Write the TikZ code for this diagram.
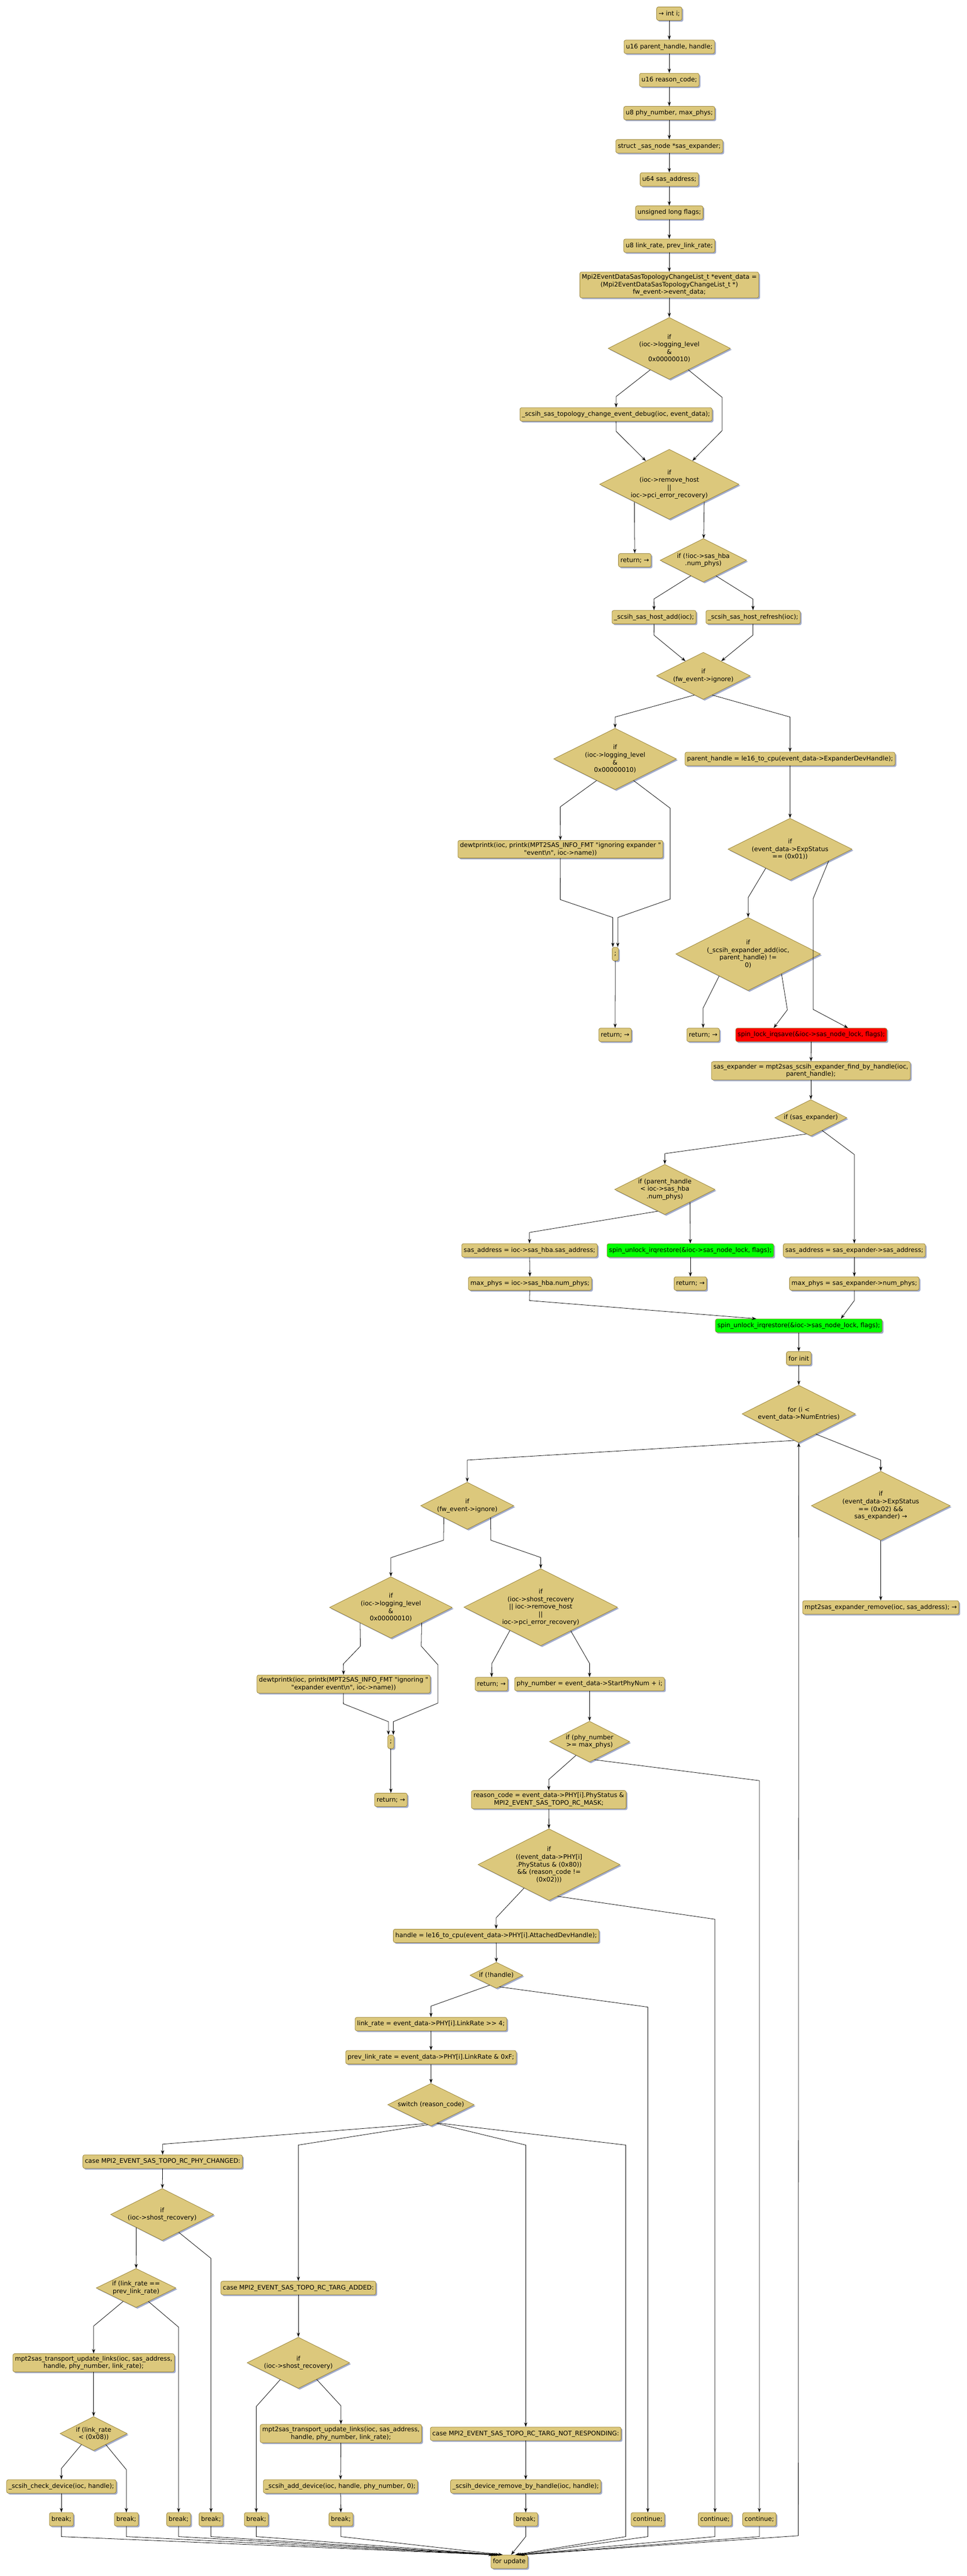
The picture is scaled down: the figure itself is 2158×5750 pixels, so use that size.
\documentclass[tikz,border=0pt]{standalone}
\usepackage{fontspec}
\setmainfont{DejaVu Sans}[Ligatures=TeXOff]
\usetikzlibrary{shapes.geometric,arrows.meta,shadows,calc}
\definecolor{nodefill}{RGB}{220,200,124}
\definecolor{nodeedge}{RGB}{150,128,52}
\definecolor{nodeshade}{RGB}{162,172,204}
\definecolor{lockred}{RGB}{255,0,0}
\definecolor{unlockgreen}{RGB}{0,255,0}
\newcommand\codefont{\fontsize{14}{16.8}\selectfont}
\begin{document}
\begin{tikzpicture}[x=1pt,y=-1pt,
    box/.style={rectangle, rounded corners=4pt, draw=nodeedge, line width=0.9pt, fill=nodefill,
      font=\codefont, align=center, inner xsep=4.5pt, inner ysep=5pt, minimum height=30pt,
      drop shadow={shadow xshift=3pt, shadow yshift=-3pt, fill=nodeshade, opacity=1}},
    cond/.style={diamond, draw=nodeedge, line width=0.9pt, fill=nodefill, inner sep=0pt,
      drop shadow={shadow xshift=3pt, shadow yshift=-3pt, fill=nodeshade, opacity=1}},
    condtext/.style={font=\codefont, align=center, inner sep=0pt},
    flow/.style={line width=0.9pt, -{Stealth[length=10pt,width=7pt]}}]
    \useasboundingbox[fill=white] (0,0) rectangle (2158,5750);
    % declarations
    \node[box] (DeclI)        at (1494,30.5)  {→ int i;};
    \node[box] (DeclHandle)   at (1494,104.5) {u16 parent\_handle, handle;};
    \node[box] (DeclReason)   at (1494,178.5) {u16 reason\_code;};
    \node[box] (DeclPhys)     at (1494,252.5) {u8 phy\_number, max\_phys;};
    \node[box] (DeclExpander) at (1494,326.5) {struct \_sas\_node *sas\_expander;};
    \node[box] (DeclAddress)  at (1494,400.5) {u64 sas\_address;};
    \node[box] (DeclFlags)    at (1494,474.5) {unsigned long flags;};
    \node[box] (DeclRates)    at (1494,548.5) {u8 link\_rate, prev\_link\_rate;};
    \node[box] (DeclEvent)    at (1494,636)   {Mpi2EventDataSasTopologyChangeList\_t *event\_data =\\(Mpi2EventDataSasTopologyChangeList\_t *)\\fw\_event->event\_data;};
    % host checks
    \node[cond, minimum width=273pt, minimum height=138pt, label={[condtext]center:{if\\(ioc->logging\_level\\\&\\0x00000010)}}] (IfLogA) at (1494,777.6) {};
    \node[box] (DebugTopo) at (1375,925) {\_scsih\_sas\_topology\_change\_event\_debug(ioc, event\_data);};
    \node[cond, minimum width=311pt, minimum height=156pt, label={[condtext]center:{if\\(ioc->remove\_host\\||\\ioc->pci\_error\_recovery)}}] (IfRemoveHost) at (1494,1081) {};
    \node[box] (ReturnA) at (1417,1250.6) {return; →};
    \node[cond, minimum width=193pt, minimum height=97pt, label={[condtext]center:{if (!ioc->sas\_hba\\.num\_phys)}}] (IfNumPhys) at (1570,1250.6) {};
    \node[box] (HostAdd)     at (1460,1377.5) {\_scsih\_sas\_host\_add(ioc);};
    \node[box] (HostRefresh) at (1681,1377.5) {\_scsih\_sas\_host\_refresh(ioc);};
    \node[cond, minimum width=209pt, minimum height=105pt, label={[condtext]center:{if\\(fw\_event->ignore)}}] (IfIgnoreA) at (1570,1508.5) {};
    % expander lookup
    \node[cond, minimum width=274pt, minimum height=137pt, label={[condtext]center:{if\\(ioc->logging\_level\\\&\\0x00000010)}}] (IfLogB) at (1373,1694) {};
    \node[box] (ParentHandle) at (1763.5,1694) {parent\_handle = le16\_to\_cpu(event\_data->ExpanderDevHandle);};
    \node[box] (PrintIgnoreA) at (1251,1895.5) {dewtprintk(ioc, printk(MPT2SAS\_INFO\_FMT "ignoring expander "\\"event\textbackslash n", ioc->name))};
    \node[cond, minimum width=277pt, minimum height=138pt, label={[condtext]center:{if\\(event\_data->ExpStatus\\== (0x01))}}] (IfExpStatusA) at (1763.5,1895.5) {};
    \node[box] (SemiA) at (1373.5,2129.5) {;};
    \node[cond, minimum width=323pt, minimum height=163pt, label={[condtext]center:{if\\(\_scsih\_expander\_add(ioc,\\parent\_handle) !=\\0)}}] (IfExpAdd) at (1670,2129.5) {};
    \node[box] (ReturnB) at (1373,2310)   {return; →};
    \node[box] (ReturnC) at (1569.5,2310) {return; →};
    \node[box, fill=lockred] (LockSave) at (1811,2310) {spin\_lock\_irqsave(\&ioc->sas\_node\_lock, flags);};
    \node[box] (FindExpander) at (1810,2390) {sas\_expander = mpt2sas\_scsih\_expander\_find\_by\_handle(ioc,\\parent\_handle);};
    \node[cond, minimum width=161pt, minimum height=81pt, label={[condtext]center:{if (sas\_expander)}}] (IfExpander) at (1810,2495) {};
    \node[cond, minimum width=224pt, minimum height=112pt, label={[condtext]center:{if (parent\_handle\\< ioc->sas\_hba\\.num\_phys)}}] (IfParentHandle) at (1484,2655) {};
    \node[box] (AddrHba) at (1182,2791) {sas\_address = ioc->sas\_hba.sas\_address;};
    \node[box, fill=unlockgreen] (UnlockA) at (1541,2791) {spin\_unlock\_irqrestore(\&ioc->sas\_node\_lock, flags);};
    \node[box] (AddrExp) at (1907,2791) {sas\_address = sas\_expander->sas\_address;};
    \node[box] (MaxHba)  at (1183,2865) {max\_phys = ioc->sas\_hba.num\_phys;};
    \node[box] (ReturnD) at (1541,2865) {return; →};
    \node[box] (MaxExp)  at (1907,2865) {max\_phys = sas\_expander->num\_phys;};
    \node[box, fill=unlockgreen] (UnlockB) at (1783,2959) {spin\_unlock\_irqrestore(\&ioc->sas\_node\_lock, flags);};
    \node[box] (ForInit) at (1783,3032) {for init};
    % phy loop
    \node[cond, minimum width=253pt, minimum height=128pt, label={[condtext]center:{for (i <\\event\_data->NumEntries)}}] (ForCond) at (1783,3156) {};
    \node[cond, minimum width=208pt, minimum height=105pt, label={[condtext]center:{if\\(fw\_event->ignore)}}] (IfIgnoreB) at (1043,3361) {};
    \node[cond, minimum width=310pt, minimum height=154pt, label={[condtext]center:{if\\(event\_data->ExpStatus\\== (0x02) \&\&\\sas\_expander) →}}] (IfExpStatusB) at (1966,3361) {};
    \node[box] (ExpRemove) at (1966,3588) {mpt2sas\_expander\_remove(ioc, sas\_address); →};
    \node[cond, minimum width=274pt, minimum height=137pt, label={[condtext]center:{if\\(ioc->logging\_level\\\&\\0x00000010)}}] (IfLogC) at (872.5,3588) {};
    \node[cond, minimum width=343pt, minimum height=172pt, label={[condtext]center:{if\\(ioc->shost\_recovery\\|| ioc->remove\_host\\||\\ioc->pci\_error\_recovery)}}] (IfRecovery) at (1207,3587.5) {};
    \node[box] (PrintIgnoreB) at (767,3759) {dewtprintk(ioc, printk(MPT2SAS\_INFO\_FMT "ignoring "\\"expander event\textbackslash n", ioc->name))};
    \node[box] (ReturnE)   at (1097,3759) {return; →};
    \node[box] (PhyNumber) at (1316,3759) {phy\_number = event\_data->StartPhyNum + i;};
    \node[box] (SemiB) at (872.5,3888) {;};
    \node[cond, minimum width=179pt, minimum height=91pt, label={[condtext]center:{if (phy\_number\\>= max\_phys)}}] (IfPhyMax) at (1316,3887.5) {};
    \node[box] (ReturnF)    at (872.5,4017.5) {return; →};
    \node[box] (ReasonCode) at (1225,4017) {reason\_code = event\_data->PHY[i].PhyStatus \&\\MPI2\_EVENT\_SAS\_TOPO\_RC\_MASK;};
    \node[cond, minimum width=317pt, minimum height=160pt, label={[condtext]center:{if\\((event\_data->PHY[i]\\.PhyStatus \& (0x80))\\\&\& (reason\_code !=\\(0x02)))}}] (IfPhyStatus) at (1225.5,4162) {};
    \node[box] (Handle) at (1107.5,4321) {handle = le16\_to\_cpu(event\_data->PHY[i].AttachedDevHandle);};
    \node[cond, minimum width=118pt, minimum height=58pt, label={[condtext]center:{if (!handle)}}] (IfHandle) at (1108,4409) {};
    \node[box] (LinkRate)     at (962,4518) {link\_rate = event\_data->PHY[i].LinkRate >> 4;};
    \node[box] (PrevLinkRate) at (962,4592) {prev\_link\_rate = event\_data->PHY[i].LinkRate \& 0xF;};
    \node[cond, minimum width=193pt, minimum height=95pt, label={[condtext]center:{switch (reason\_code)}}] (Switch) at (962,4698) {};
    % switch cases
    \node[box] (CasePhy) at (363,4825) {case MPI2\_EVENT\_SAS\_TOPO\_RC\_PHY\_CHANGED:};
    \node[cond, minimum width=230pt, minimum height=116pt, label={[condtext]center:{if\\(ioc->shost\_recovery)}}] (IfShostA) at (362,4943) {};
    \node[cond, minimum width=178pt, minimum height=87pt, label={[condtext]center:{if (link\_rate ==\\prev\_link\_rate)}}] (IfLinkSame) at (303.7,5107) {};
    \node[box] (CaseAdded) at (666,5107) {case MPI2\_EVENT\_SAS\_TOPO\_RC\_TARG\_ADDED:};
    \node[box] (UpdateA) at (209,5274) {mpt2sas\_transport\_update\_links(ioc, sas\_address,\\handle, phy\_number, link\_rate);};
    \node[cond, minimum width=229pt, minimum height=114pt, label={[condtext]center:{if\\(ioc->shost\_recovery)}}] (IfShostB) at (666,5274) {};
    \node[cond, minimum width=150pt, minimum height=76pt, label={[condtext]center:{if (link\_rate\\< (0x08))}}] (IfLinkLow) at (209,5432) {};
    \node[box] (UpdateB) at (761,5432) {mpt2sas\_transport\_update\_links(ioc, sas\_address,\\handle, phy\_number, link\_rate);};
    \node[box] (CaseNotResp) at (1173.5,5432.5) {case MPI2\_EVENT\_SAS\_TOPO\_RC\_TARG\_NOT\_RESPONDING:};
    \node[box] (CheckDev)  at (137,5550)    {\_scsih\_check\_device(ioc, handle);};
    \node[box] (AddDev)    at (760,5550)    {\_scsih\_add\_device(ioc, handle, phy\_number, 0);};
    \node[box] (RemoveDev) at (1173.5,5550) {\_scsih\_device\_remove\_by\_handle(ioc, handle);};
    \node[box] (BreakA) at (137,5623.5)    {break;};
    \node[box] (BreakB) at (282,5623.5)    {break;};
    \node[box] (BreakC) at (398.7,5623.5)  {break;};
    \node[box] (BreakD) at (471,5623.5)    {break;};
    \node[box] (BreakE) at (572,5623.5)    {break;};
    \node[box] (BreakF) at (761,5623.5)    {break;};
    \node[box] (BreakG) at (1173.5,5623.5) {break;};
    \node[box] (ContA)  at (1446,5623.5)   {continue;};
    \node[box] (ContB)  at (1596,5623.5)   {continue;};
    \node[box] (ContC)  at (1695,5623.5)   {continue;};
    \node[box] (ForUpdate) at (1137,5718) {for update};
    \coordinate (MergeRow) at (0,5662);
    % declaration chain
    \draw[flow] (DeclI) -- (DeclHandle);
    \draw[flow] (DeclHandle) -- (DeclReason);
    \draw[flow] (DeclReason) -- (DeclPhys);
    \draw[flow] (DeclPhys) -- (DeclExpander);
    \draw[flow] (DeclExpander) -- (DeclAddress);
    \draw[flow] (DeclAddress) -- (DeclFlags);
    \draw[flow] (DeclFlags) -- (DeclRates);
    \draw[flow] (DeclRates) -- (DeclEvent);
    \draw[flow] (DeclEvent) -- (IfLogA);
    % host checks
    \draw[flow] ($(IfLogA.south)!0.31!(IfLogA.west)$) -- (1375.5,885) -- (DebugTopo);
    \draw[flow] ($(IfLogA.south)!0.31!(IfLogA.east)$) -- (1612,887) -- (1612,961) -- (IfRemoveHost);
    \draw[flow] (DebugTopo) -- (1375.5,963) -- (IfRemoveHost);
    \draw[flow] (IfRemoveHost.south west) -- (ReturnA);
    \draw[flow] (IfRemoveHost.south east) -- (IfNumPhys);
    \draw[flow] ($(IfNumPhys.south)!0.29!(IfNumPhys.west)$) -- (1459.7,1337) -- (HostAdd);
    \draw[flow] ($(IfNumPhys.south)!0.29!(IfNumPhys.east)$) -- (1680.6,1337) -- (HostRefresh);
    \draw[flow] (HostAdd) -- (1459.7,1417.7) -- (IfIgnoreA);
    \draw[flow] (HostRefresh) -- (1680.6,1417.7) -- (IfIgnoreA);
    % expander lookup
    \draw[flow] ($(IfIgnoreA.south)!0.19!(IfIgnoreA.west)$) -- (1373,1600.5) -- (IfLogB);
    \draw[flow] ($(IfIgnoreA.south)!0.19!(IfIgnoreA.east)$) -- (1763.5,1600.5) -- (ParentHandle);
    \draw[flow] ($(IfLogB.south)!0.3!(IfLogB.west)$) -- (1250.6,1801) -- (PrintIgnoreA);
    \draw[flow] ($(IfLogB.south)!0.3!(IfLogB.east)$) -- (1496,1804) -- (1496,2007) -- (1379,2048) -- ([xshift=5.5pt]SemiA.north);
    \draw[flow] (PrintIgnoreA) -- (1250.6,2008) -- (1368,2048) -- ([xshift=-5.5pt]SemiA.north);
    \draw[flow] (SemiA) -- (ReturnB);
    \draw[flow] (ParentHandle) -- (IfExpStatusA);
    \draw[flow] ($(IfExpStatusA.south)!0.39!(IfExpStatusA.west)$) -- (1670,2003.5) -- (IfExpAdd);
    \draw[flow] ($(IfExpStatusA.south)!0.62!(IfExpStatusA.east)$) -- (1815,2006) -- (1815,2253) -- ([xshift=82pt]LockSave.north);
    \draw[flow] ($(IfExpAdd.south)!0.4!(IfExpAdd.west)$) -- (1569.5,2250) -- (ReturnC);
    \draw[flow] ($(IfExpAdd.south)!0.46!(IfExpAdd.east)$) -- (1757.6,2254) -- ([xshift=-84pt]LockSave.north);
    \draw[flow] (LockSave) -- (FindExpander);
    \draw[flow] (FindExpander) -- (IfExpander);
    \draw[flow] ($(IfExpander.south)!0.12!(IfExpander.west)$) -- (1484,2575) -- (IfParentHandle);
    \draw[flow] ($(IfExpander.south)!0.31!(IfExpander.east)$) -- (1907,2577) -- (AddrExp);
    \draw[flow] ($(IfParentHandle.south)!0.14!(IfParentHandle.west)$) -- (1182,2751) -- (AddrHba);
    \draw[flow] (IfParentHandle.south east) -- (UnlockA);
    \draw[flow] (UnlockA) -- (ReturnD);
    \draw[flow] (AddrHba) -- (MaxHba);
    \draw[flow] (AddrExp) -- (MaxExp);
    \draw[flow] (MaxHba) -- (1182,2903) -- ([xshift=-95pt]UnlockB.north);
    \draw[flow] (MaxExp) -- (1907,2903) -- ([xshift=94pt]UnlockB.north);
    \draw[flow] (UnlockB) -- (ForInit);
    \draw[flow] (ForInit) -- (ForCond);
    % phy loop
    \draw[flow] ($(ForCond.south)!0.08!(ForCond.west)$) -- (1043,3259) -- (IfIgnoreB);
    \draw[flow] ($(ForCond.south)!0.3!(ForCond.east)$) -- (1966,3259) -- (IfExpStatusB);
    \draw[flow] (IfExpStatusB) -- (ExpRemove);
    \draw[flow] (IfIgnoreB.south west) -- (990,3438) -- (872.5,3477) -- (IfLogC);
    \draw[flow] (IfIgnoreB.south east) -- (1095.8,3438) -- (1207,3476.5) -- (IfRecovery);
    \draw[flow] (IfLogC.south west) -- (804.5,3674.5) -- (766.6,3714) -- (PrintIgnoreB);
    \draw[flow] (IfLogC.south east) -- (940.4,3674.5) -- (977.5,3716) -- (977.5,3801.5) -- (878,3843) -- ([xshift=5.5pt]SemiB.north);
    \draw[flow] (PrintIgnoreB) -- (766.6,3803) -- (867,3843) -- ([xshift=-5.5pt]SemiB.north);
    \draw[flow] (SemiB) -- (ReturnF);
    \draw[flow] ($(IfRecovery.south)!0.4!(IfRecovery.west)$) -- (1098,3713) -- (ReturnE);
    \draw[flow] ($(IfRecovery.south)!0.39!(IfRecovery.east)$) -- (1316,3713) -- (PhyNumber);
    \draw[flow] (PhyNumber) -- (IfPhyMax);
    \draw[flow] ($(IfPhyMax.south)!0.335!(IfPhyMax.west)$) -- (1225,3972) -- (ReasonCode);
    \draw[flow] ($(IfPhyMax.south)!0.12!(IfPhyMax.east)$) -- (1695,3974.6) -- (ContC);
    \draw[flow] (ReasonCode) -- (IfPhyStatus);
    \draw[flow] ($(IfPhyStatus.south)!0.35!(IfPhyStatus.west)$) -- (1107.5,4280.7) -- (Handle);
    \draw[flow] ($(IfPhyStatus.south)!0.12!(IfPhyStatus.east)$) -- (1596,4284) -- (ContB);
    \draw[flow] (Handle) -- (IfHandle);
    \draw[flow] ($(IfHandle.south)!0.25!(IfHandle.west)$) -- (962,4478) -- (LinkRate);
    \draw[flow] ($(IfHandle.south)!0.12!(IfHandle.east)$) -- (1446,4480) -- (ContA);
    \draw[flow] (LinkRate) -- (PrevLinkRate);
    \draw[flow] (PrevLinkRate) -- (Switch);
    % switch cases
    \draw[flow] ($(Switch.south)!0.12!(Switch.west)$) -- (363,4786) -- (CasePhy);
    \draw[flow] ($(Switch.south)!0.07!(Switch.west)$) -- (666,4788) -- (CaseAdded);
    \draw[flow] ($(Switch.south)!0.13!(Switch.east)$) -- (1173.5,4788) -- (CaseNotResp);
    \draw[flow] ($(Switch.south)!0.15!(Switch.east)$) -- (1396.7,4788) -- (1396.7,5662) -- ([xshift=13pt]ForUpdate.north);% default
    \draw[flow] (CasePhy) -- (IfShostA);
    \draw[flow] (IfShostA.south west) -- (IfLinkSame);
    \draw[flow] ($(IfShostA.south)!0.32!(IfShostA.east)$) -- (471,5041) -- (BreakD);
    \draw[flow] ($(IfLinkSame.south)!0.32!(IfLinkSame.west)$) -- (209,5192) -- (UpdateA);
    \draw[flow] ($(IfLinkSame.south)!0.31!(IfLinkSame.east)$) -- (398.7,5194.5) -- (BreakC);
    \draw[flow] (UpdateA) -- (IfLinkLow);
    \draw[flow] ($(IfLinkLow.south)!0.36!(IfLinkLow.west)$) -- (137,5510) -- (CheckDev);
    \draw[flow] ($(IfLinkLow.south)!0.36!(IfLinkLow.east)$) -- (282,5512.5) -- (BreakB);
    \draw[flow] (CheckDev) -- (BreakA);
    \draw[flow] (CaseAdded) -- (IfShostB);
    \draw[flow] ($(IfShostB.south)!0.35!(IfShostB.west)$) -- (572,5371.6) -- (BreakE);
    \draw[flow] ($(IfShostB.south)!0.355!(IfShostB.east)$) -- (761,5370) -- (UpdateB);
    \draw[flow] (UpdateB) -- (AddDev);
    \draw[flow] (AddDev) -- (BreakF);
    \draw[flow] (CaseNotResp) -- (RemoveDev);
    \draw[flow] (RemoveDev) -- (BreakG);
    % into for update
    \draw[flow] (BreakA) -- (BreakA |- MergeRow) -- ([xshift=-37pt]ForUpdate.north);
    \draw[flow] (BreakB) -- (BreakB |- MergeRow) -- ([xshift=-33pt]ForUpdate.north);
    \draw[flow] (BreakC) -- (BreakC |- MergeRow) -- ([xshift=-29pt]ForUpdate.north);
    \draw[flow] (BreakD) -- (BreakD |- MergeRow) -- ([xshift=-25pt]ForUpdate.north);
    \draw[flow] (BreakE) -- (BreakE |- MergeRow) -- ([xshift=-21pt]ForUpdate.north);
    \draw[flow] (BreakF) -- (BreakF |- MergeRow) -- ([xshift=-15pt]ForUpdate.north);
    \draw[flow] (BreakG) -- (BreakG |- MergeRow) -- ([xshift=4pt]ForUpdate.north);
    \draw[flow] (ContA) -- (ContA |- MergeRow) -- ([xshift=17pt]ForUpdate.north);
    \draw[flow] (ContB) -- (ContB |- MergeRow) -- ([xshift=21pt]ForUpdate.north);
    \draw[flow] (ContC) -- (ContC |- MergeRow) -- ([xshift=25pt]ForUpdate.north);
    \draw[flow] ([xshift=29pt]ForUpdate.north) -- (1782,5660) -- (ForCond);% back to loop test
\end{tikzpicture}
\end{document}
